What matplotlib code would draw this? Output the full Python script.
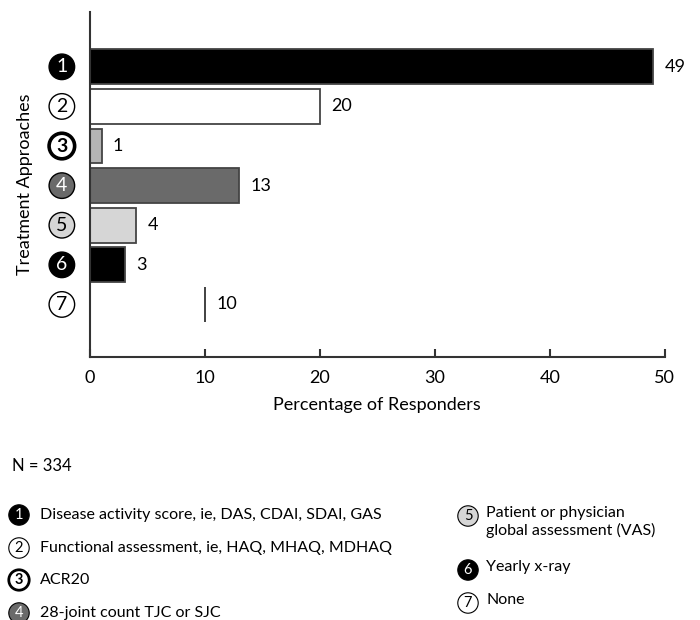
import matplotlib
matplotlib.use("Agg")
import matplotlib.pyplot as plt

plt.rcParams['font.family'] = ['Lato', 'DejaVu Sans']

# Survey results: share of responders using each treatment approach
approach_ids = ["1", "2", "3", "4", "5", "6", "7"]
percentages = [49, 20, 1, 13, 4, 3, 10]
bar_colors = ["#000000", "#ffffff", "#b4b4b4", "#6a6a6a", "#d6d6d6", "#000000", "#ffffff"]
badge_faces = ["#000000", "#ffffff", "#ffffff", "#6a6a6a", "#d6d6d6", "#000000", "#ffffff"]
badge_text = ["white", "black", "black", "white", "black", "white", "black"]
x_ticks = [0, 10, 20, 30, 40, 50]
legend_left = ["Disease activity score, ie, DAS, CDAI, SDAI, GAS",
               "Functional assessment, ie, HAQ, MHAQ, MDHAQ",
               "ACR20",
               "28-joint count TJC or SJC"]
legend_right = ["Patient or physician\nglobal assessment (VAS)",
                "Yearly x-ray",
                "None"]
sample_note = "N = 334"

fig = plt.figure(figsize=(7, 6.2), dpi=100)
ax = fig.add_axes([0.1286, 0.424, 0.821, 0.557])

for i, (v, c) in enumerate(zip(percentages, bar_colors)):
    if i == len(percentages) - 1:
        # "None" bar: blank fill with only its end marked
        ax.barh(i, v, height=0.88, color="white", linewidth=0)
        ax.vlines(v, i - 0.44, i + 0.44, color="#333333", linewidth=1.3)
    else:
        ax.barh(i, v, height=0.88, color=c, edgecolor="#444444", linewidth=1.3)
    ax.text(v + 1.0, i, str(v), va="center", ha="left", fontsize=13)

ax.set_xlim(0, 50)
ax.set_ylim(7.33, -1.39)
ax.set_xticks(x_ticks)
ax.set_xticklabels([str(t) for t in x_ticks], fontsize=13)
ax.tick_params(axis="x", direction="in", length=6, width=1.5, color="#333333", pad=9)
ax.set_yticks([])
for s in ["top", "right"]:
    ax.spines[s].set_visible(False)
for s in ["left", "bottom"]:
    ax.spines[s].set_linewidth(1.5)
    ax.spines[s].set_color("#333333")

ax.set_xlabel("Percentage of Responders", fontsize=13, labelpad=8)
ax.set_ylabel("Treatment Approaches", fontsize=13)
ax.yaxis.set_label_coords(-0.10, 0.5)


def badge(x, y, label, face, tcolor, size, transform, bold=False, lw=1.0):
    ax.text(x, y, label, transform=transform, ha="center", va="center",
            fontsize=size, color=tcolor, fontweight="bold" if bold else "normal",
            bbox=dict(boxstyle="circle,pad=0.22", fc=face, ec="black", lw=lw),
            clip_on=False)


# circled numbers along the category axis
trans = ax.get_yaxis_transform()
for i, lab in enumerate(approach_ids):
    badge(-0.049, i, lab, badge_faces[i], badge_text[i], 14, trans,
          bold=(lab == "3"), lw=2.6 if lab == "3" else 1.0)

# notes and key beneath the chart
fig.text(12 / 700, 1 - 466 / 620, sample_note, fontsize=12, va="center")
left_y = [515, 548, 580, 613]
for lab, txt, yy, i in zip(approach_ids[:4], legend_left, left_y, range(4)):
    badge(19 / 700, 1 - yy / 620, lab, badge_faces[i], badge_text[i], 10.5,
          fig.transFigure, bold=(lab == "3"), lw=2.0 if lab == "3" else 0.8)
    fig.text(40 / 700, 1 - yy / 620, txt, fontsize=11.5, va="center")
right_y = [516, 570, 603]
for lab, txt, yy, i in zip(approach_ids[4:], legend_right, right_y, range(4, 7)):
    badge(468 / 700, 1 - yy / 620, lab, badge_faces[i], badge_text[i], 10.5,
          fig.transFigure, lw=0.8)
    fig.text(486 / 700, 1 - (yy - 10) / 620, txt, fontsize=11.5, va="top",
             linespacing=1.25)

fig.savefig("out.png", dpi=100)
